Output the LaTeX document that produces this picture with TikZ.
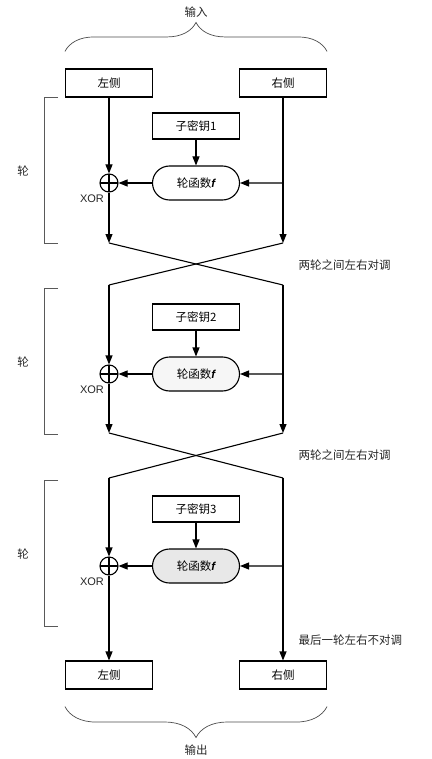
\documentclass[tikz,border=0pt]{standalone}
\usepackage{fontspec}
\setmainfont{Noto Sans CJK SC}
\newfontfamily\latinsf{Liberation Sans}
\usetikzlibrary{
  positioning, shapes.misc, arrows.meta, calc,
  decorations.pathreplacing
}
\newcommand{\fvar}{{\latinsf\itshape\bfseries f}}
\tikzset{
  box/.style={
    draw, line width=1.1pt, fill=white,
    minimum width=87pt, minimum height=28pt, inner sep=0pt
  },
  fnbox/.style={
    rounded rectangle, draw, line width=1.1pt, fill=#1,
    minimum width=87pt, minimum height=34pt, inner sep=0pt
  },
  xorop/.style={
    circle, draw, line width=1.1pt, fill=white,
    minimum size=18pt, inner sep=0pt,
    path picture={
      \draw[line width=1.1pt] (path picture bounding box.north) -- (path picture bounding box.south)
        (path picture bounding box.west) -- (path picture bounding box.east);
    }
  },
  arrow/.style={-{Triangle[length=9pt,width=7pt]}, line width=1.1pt},
  line/.style={line width=1.1pt},
  brace/.style={
    decorate, decoration={brace, amplitude=#1},
    draw=black!70, line width=0.7pt
  },
  bracket/.style={draw=black!65, line width=0.8pt},
  note/.style={anchor=west, text=black!85}
}

\begin{document}
\begin{tikzpicture}[x=1pt, y=-1pt,
  every node/.style={font=\fontsize{11.5}{13}\selectfont}]
\useasboundingbox (0,0) rectangle (431,759);

%% Input
\node[text=black!85] (in) at (196,12) {输入};
\node[box] (inL) at (109,83) {左侧};
\node[box] (inR) at (283,83) {右侧};
\draw[brace=29pt] ([yshift=17pt]inL.north west) -- ([yshift=17pt]inR.north east);

%% Output
\node[box] (outL) at (109,675) {左侧};
\node[box] (outR) at (283,675) {右侧};
\draw[brace=31pt] ([yshift=-17pt]outR.south east) -- ([yshift=-17pt]outL.south west);
\node[text=black!85] (out) at (196,750) {输出};

%% Swap between rounds
\foreach \i/\j/\ya/\yb in {1/2/243/285, 2/3/433/478} {
  \coordinate (lb\i) at (109,\ya);
  \coordinate (rb\i) at (283,\ya);
  \coordinate (lt\j) at (109,\yb);
  \coordinate (rt\j) at (283,\yb);
  \draw[line] (lb\i) -- (rt\j);
  \draw[line] (rb\i) -- (lt\j);
  \node[note] (swap\i) at (295,\ya+22) {两轮之间左右对调};
}
\node[note] (noswap) at (295,640) {最后一轮左右不对调};

%% Rounds
\foreach \i/\y/\shade in {1/183/white, 2/374/gray!7, 3/566/gray!18} {
  \node[box, minimum height=26pt] (key\i) at (196,\y-57) {子密钥\i};
  \node[fnbox=\shade] (fn\i) at (196,\y) {轮函数\fvar};
  \node[xorop] (xor\i) at (109,\y) {};
  \node[font=\latinsf\fontsize{11}{13}\selectfont, text=black!85] (xl\i) at (92,\y+16) {XOR};
  \coordinate (tap\i) at (283,\y);
  \draw[arrow] (key\i) -- (fn\i);
  \draw[arrow] (tap\i) -- (fn\i);
  \draw[arrow] (fn\i) -- (xor\i);
  % round bracket
  \draw[bracket] (58,\y-86) -- (44,\y-86) -- (44,\y+60) -- (58,\y+60);
  \node[text=black!85] (rl\i) at (23,\y-12) {轮};
}

%% Data paths
\draw[arrow] (inL) -- (xor1);
\draw[arrow] (xor1) -- (lb1);
\draw[arrow] (inR) -- (rb1);
\draw[arrow] (lt2) -- (xor2);
\draw[arrow] (xor2) -- (lb2);
\draw[arrow] (rt2) -- (rb2);
\draw[arrow] (lt3) -- (xor3);
\draw[arrow] (xor3) -- (outL);
\draw[arrow] (rt3) -- (outR);
\end{tikzpicture}
\end{document}
